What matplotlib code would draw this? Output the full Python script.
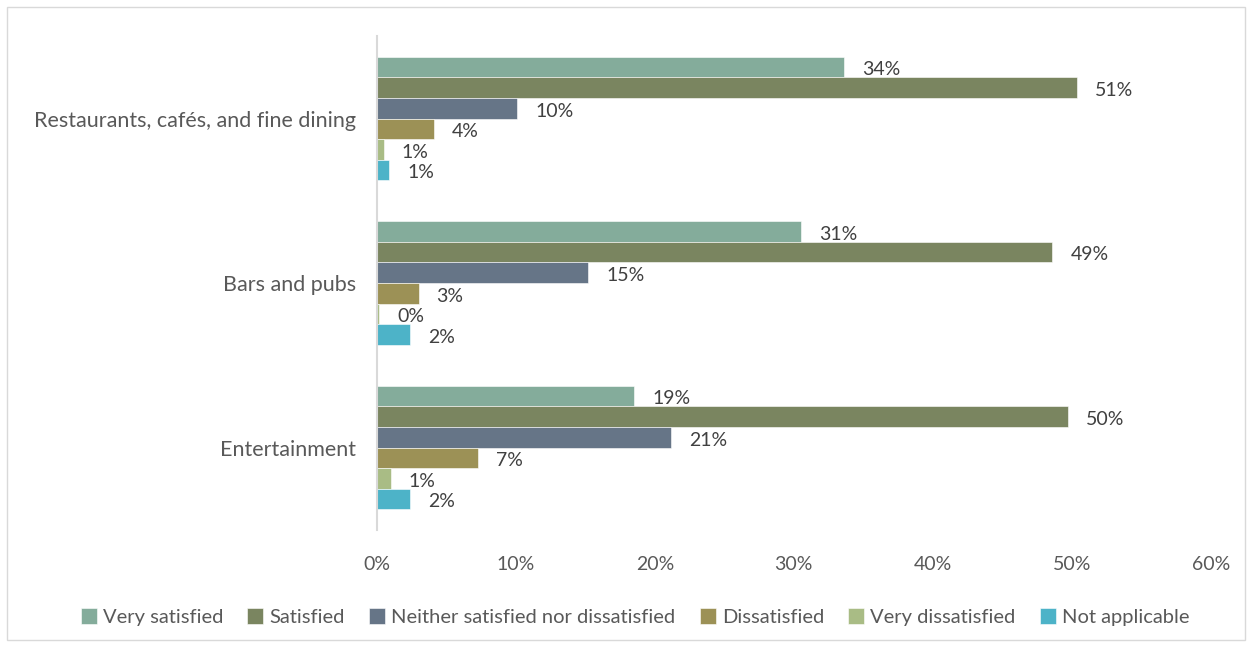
import numpy as np
import matplotlib
matplotlib.use('Agg')
import matplotlib.pyplot as plt
from matplotlib.patches import Rectangle

categories = ['Restaurants, cafés, and fine dining', 'Bars and pubs', 'Entertainment']
series_names = ['Very satisfied', 'Satisfied', 'Neither satisfied nor dissatisfied',
                'Dissatisfied', 'Very dissatisfied', 'Not applicable']
very_satisfied = [33.6, 30.5, 18.5]
satisfied = [50.4, 48.6, 49.7]
neither = [10.1, 15.2, 21.2]
dissatisfied = [4.1, 3.0, 7.3]
very_dissatisfied = [0.5, 0.15, 1.0]
not_applicable = [0.9, 2.4, 2.4]
labels = [
    ['34%', '31%', '19%'],
    ['51%', '49%', '50%'],
    ['10%', '15%', '21%'],
    ['4%', '3%', '7%'],
    ['1%', '0%', '1%'],
    ['1%', '2%', '2%'],
]
xticks = [0, 10, 20, 30, 40, 50, 60]
colors = ['#84AC9B', '#7A8560', '#667587', '#9C9156', '#A9BC85', '#4DB3C8']

plt.rcParams['font.family'] = ['Lato', 'DejaVu Sans']

values = [very_satisfied, satisfied, neither, dissatisfied, very_dissatisfied, not_applicable]

fig = plt.figure(figsize=(12.52, 6.47), dpi=100)
ax = fig.add_axes([0.301, 0.181, 0.666, 0.763])

# outer frame
fig.patches.append(Rectangle((7 / 1252, 7 / 647), 1 - 14 / 1252, 1 - 14 / 647,
                             transform=fig.transFigure, fill=False,
                             edgecolor='#D9D9D9', linewidth=1.0))

n = len(values)
slot = 0.75
h = slot / n
y = np.arange(len(categories))
for i, (vals, name) in enumerate(zip(values, series_names)):
    pos = y - slot / 2 + h * (i + 0.5)
    ax.barh(pos, vals, height=h, color=colors[i], label=name,
            edgecolor='white', linewidth=0.4)
    for p, v, lab in zip(pos, vals, labels[i]):
        ax.annotate(lab, (v, p), xytext=(13, -2), textcoords='offset points',
                    va='center', ha='left', fontsize=14, color='#404040')

ax.set_ylim(len(categories) - 0.5, -0.5)
ax.set_xlim(0, 60)
ax.set_xticks(xticks)
ax.set_xticklabels(['{}%'.format(t) for t in xticks])
ax.set_yticks(y)
ax.set_yticklabels(categories, fontsize=15.5)
ax.tick_params(axis='both', length=0, colors='#595959')
ax.tick_params(axis='x', pad=19, labelsize=14)
ax.tick_params(axis='y', pad=15)
for s in ['top', 'right', 'bottom']:
    ax.spines[s].set_visible(False)
ax.spines['left'].set_color('#D9D9D9')
ax.spines['left'].set_linewidth(1.5)

ax.legend(loc='center', bbox_to_anchor=(635 / 1252, 1 - 617 / 647),
          bbox_transform=fig.transFigure, ncol=6, frameon=False,
          fontsize=14.5, labelcolor='#595959', handlelength=0.8,
          handleheight=0.8, handletextpad=0.3, columnspacing=1.2)

fig.savefig('out.png', dpi=100)
